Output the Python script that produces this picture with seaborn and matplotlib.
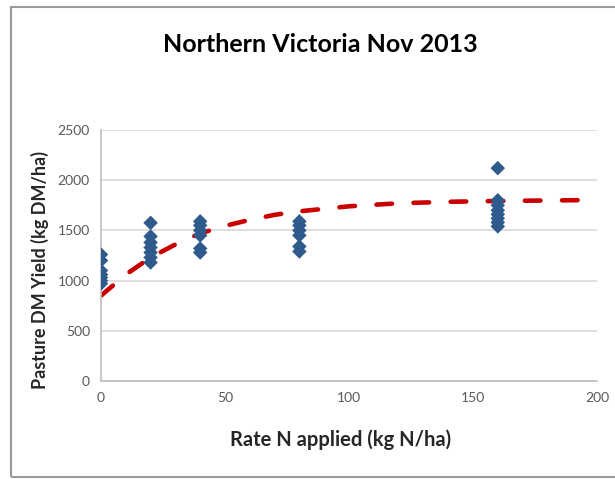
import matplotlib
matplotlib.use("Agg")
import matplotlib.pyplot as plt
import seaborn as sns
import pandas as pd
from matplotlib.patches import Rectangle

# Observed yields (kg DM/ha) by N rate (kg N/ha)
rate_0 = [970, 1000, 1030, 1060, 1100, 1200, 1260]
rate_20 = [1180, 1230, 1280, 1330, 1380, 1440, 1575]
rate_40 = [1280, 1320, 1450, 1500, 1550, 1590]
rate_80 = [1290, 1340, 1450, 1500, 1550, 1590]
rate_160 = [1540, 1580, 1620, 1660, 1700, 1750, 1800, 2120]

# Response curve
curve_x = [0, 10, 20, 30, 40, 50, 60, 70, 80, 100, 120, 140, 160, 180, 200]
curve_y = [850, 1060, 1230, 1360, 1470, 1545, 1605, 1655, 1690, 1740, 1770, 1785, 1793, 1798, 1803]

title = "Northern Victoria Nov 2013"
xlabel = "Rate N applied (kg N/ha)"
ylabel = "Pasture DM Yield (kg DM/ha)"
xticks = [0, 50, 100, 150, 200]
yticks = [0, 500, 1000, 1500, 2000, 2500]

rows = []
for r, vals in [(0, rate_0), (20, rate_20), (40, rate_40), (80, rate_80), (160, rate_160)]:
    for v in vals:
        rows.append({"rate": r, "yield": v})
pts = pd.DataFrame(rows)
curve = pd.DataFrame({"rate": curve_x, "yield": curve_y})

sns.set_theme(style="white")
plt.rcParams["font.family"] = ["Lato", "DejaVu Sans"]

fig = plt.figure(figsize=(6.15, 4.79), dpi=100)
ax = fig.add_axes([0.1642, 0.2046, 0.8065, 0.524])

ax.yaxis.grid(True, color="#d9d9d9", linewidth=1.2)
ax.set_axisbelow(True)

sns.lineplot(data=curve, x="rate", y="yield", ax=ax, color="#c80000",
             linewidth=3.3, zorder=2)
ln = ax.lines[-1]
ln.set_dashes([3.4, 4.7])
ln.set_dash_capstyle("round")
sns.scatterplot(data=pts, x="rate", y="yield", ax=ax, marker="D", s=55,
                color="#2f5b8c", edgecolor="none", zorder=3)

ax.set_xlim(0, 200)
ax.set_ylim(0, 2500)
ax.set_xticks(xticks)
ax.set_yticks(yticks)
ax.tick_params(axis="both", length=0, labelsize=10, labelcolor="#595959", pad=8)
for s in ["top", "right"]:
    ax.spines[s].set_visible(False)
for s in ["left", "bottom"]:
    ax.spines[s].set_color("#bfbfbf")
    ax.spines[s].set_linewidth(1.2)

ax.set_xlabel(xlabel, fontsize=14.5, fontweight="bold", color="#262626")
ax.xaxis.set_label_coords((341 - 101) / 496, -(440 - 381) / 251, transform=ax.transAxes)
ax.set_ylabel(ylabel, fontsize=13, fontweight="bold", color="#262626")
ax.yaxis.set_label_coords(-(101 - 40) / 496, (381 - 270) / 251, transform=ax.transAxes)
ax.xaxis.label.set_va("center")
ax.yaxis.label.set_va("center")
fig.text(320 / 615, 1 - 45 / 479, title, ha="center", va="center", fontsize=18,
         fontweight="bold", color="black")

fig.patches.append(Rectangle((0.018, 0.004), 1.2, 0.982, transform=fig.transFigure,
                             fill=False, edgecolor="#9a9a9a", linewidth=1.5))

fig.savefig("out.png", dpi=100)
